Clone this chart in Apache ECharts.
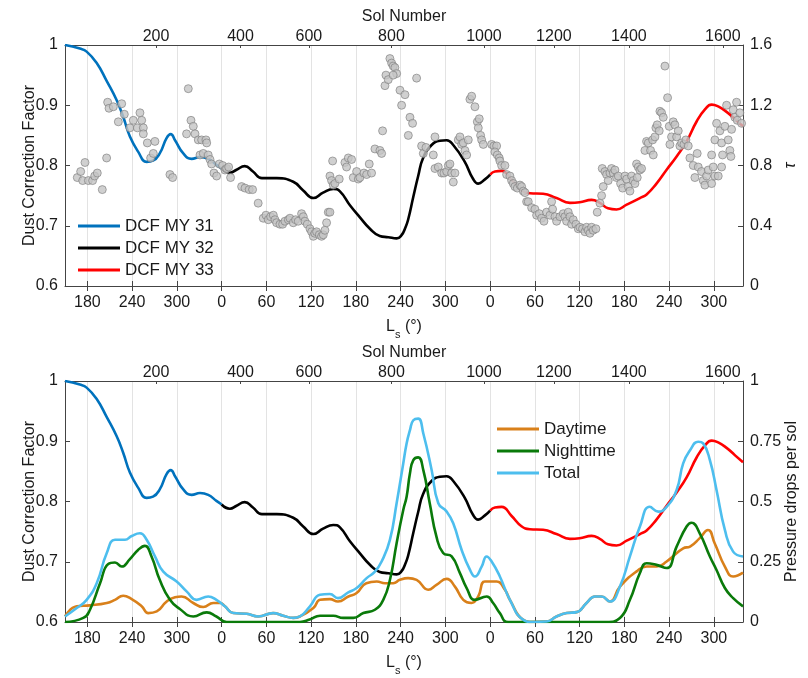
<!DOCTYPE html>
<html>
<head>
<meta charset="utf-8">
<script src="https://cdn.jsdelivr.net/npm/echarts@6/dist/echarts.min.js"></script>
<style>html,body{margin:0;padding:0;background:#fff}#c{width:808px;height:678px}</style>
</head>
<body>
<div id="c"></div>
<script>
// ---- Axis tick data ----
const lsTickPos = [180,240,300,360,420,480,540,600,660,720,780,840,900,960,1020];
const lsTickLabels = ['180','240','300','0','60','120','180','240','300','0','60','120','180','240','300'];
const solTickPos = [272,385.3,477,587.7,711.7,805.5,906,1032];
const solTickLabels = ['200','400','600','800','1000','1200','1400','1600'];

// ---- DCF curves [cumulative Ls, DCF] ----
const dcfMY31 = [[150,1.0],[170,0.994],[179,0.989],[192.5,0.970],[206,0.940],[219,0.909],[228,0.881],[237,0.848],[248,0.823],[259.5,0.806],[268,0.808],[277,0.820],[286,0.845],[291.7,0.852],[297.5,0.842],[308.6,0.820],[319.8,0.811],[331,0.814],[342,0.811],[353,0.801],[360,0.795]];
const dcfMY32 = [[360,0.795],[371,0.788],[380,0.793],[391,0.799],[402,0.790],[414,0.779],[434,0.779],[456,0.773],[469,0.759],[483,0.746],[496,0.755],[509.7,0.761],[518.6,0.757],[532,0.734],[545.4,0.714],[558.8,0.695],[572,0.683],[583.4,0.681],[594.6,0.679],[601,0.684],[606,0.696],[610,0.710],[617,0.748],[623.6,0.783],[630,0.812],[641.5,0.834],[652.7,0.841],[661.7,0.842],[670.5,0.834],[686,0.806],[697,0.778],[704,0.770],[713,0.777],[720,0.785]];
const dcfMY33 = [[720,0.785],[726.4,0.790],[735.4,0.791],[748.8,0.776],[762,0.759],[773.3,0.754],[791,0.753],[809,0.746],[827,0.738],[840,0.739],[856,0.743],[867,0.738],[878,0.729],[889.5,0.727],[903,0.735],[920.8,0.746],[929.8,0.752],[943,0.770],[956.6,0.793],[970,0.815],[983.4,0.840],[996.8,0.873],[1008,0.893],[1017,0.901],[1025.7,0.898],[1037,0.889],[1048,0.877],[1059,0.865]];

// ---- Optical depth tau points [cumulative Ls, tau] ----
const tauPoints = [[166.5,0.72],[171,0.76],[173.7,0.70],[181.3,0.70],[187,0.70],[189.8,0.73],[193.3,0.75],[176.8,0.82],[200,0.64],[205.8,0.85],[207.2,1.22],[209,1.18],[214.8,1.19],[221.5,1.09],[226,1.21],[229.5,1.14],[237,1.05],[241.6,1.10],[247,1.05],[250.5,1.15],[252.8,1.10],[255,1.05],[255,1.01],[260.4,0.95],[270.6,0.96],[264.8,0.85],[268.4,0.88],[290.7,0.74],[294.3,0.72],[315.3,1.31],[313,1.01],[318.9,1.10],[322,1.06],[324.3,1.01],[328.7,0.97],[333.2,0.97],[339,0.97],[340,0.95],[331,0.87],[335.4,0.88],[342,0.87],[344.4,0.84],[346.6,0.81],[349.7,0.75],[353.3,0.73],[356.9,0.81],[361.3,0.80],[364.5,0.77],[366.7,0.78],[369.4,0.79],[372,0.72],[386.8,0.66],[391.3,0.65],[397,0.64],[401.5,0.64],[409,0.55],[415.8,0.45],[419.4,0.47],[422.5,0.44],[425.7,0.46],[429.3,0.47],[431.5,0.44],[433.7,0.42],[438.2,0.41],[441.8,0.41],[444.9,0.43],[449.4,0.44],[451.6,0.45],[456,0.42],[459.2,0.44],[462.7,0.43],[467.2,0.48],[469.5,0.46],[471.7,0.43],[474.8,0.41],[478.4,0.38],[480.6,0.36],[482.9,0.33],[485,0.35],[487.3,0.36],[490.9,0.34],[494,0.33],[496.3,0.34],[498.5,0.37],[500.7,0.42],[503,0.49],[505.2,0.49],[505.2,0.73],[507.4,0.70],[509.7,0.67],[511.9,0.68],[517.7,0.71],[508.8,0.83],[525.3,0.82],[527.5,0.79],[529.8,0.85],[534.2,0.84],[536.5,0.72],[541,0.76],[543.2,0.71],[545.4,0.72],[550.8,0.75],[554.4,0.74],[557.9,0.81],[561,0.75],[565.5,0.91],[572.2,0.90],[574.5,0.88],[575.8,1.03],[579,1.33],[580.3,1.40],[583.4,1.37],[585.6,1.51],[587.9,1.48],[590,1.46],[592.3,1.45],[594.6,1.41],[590,1.40],
[599.1,1.30],[601.3,1.20],[605.8,1.27],[610.3,1.00],[612.5,1.12],[616,1.08],[621.4,1.38],[628.1,0.93],[630.4,0.88],[634,0.92],[643.8,0.87],[646,0.99],[646,0.78],[650.5,0.79],[655,0.75],[658,0.75],[661.7,0.76],[663.9,0.80],[666.1,0.81],[668.4,0.75],[670.6,0.69],[672.8,0.75],[677.3,0.97],[679.5,0.99],[681.8,0.94],[684,0.95],[686.2,0.90],[688.5,0.87],[690.7,0.97],[692.9,1.24],[695.2,1.26],[699.6,1.19],[702.8,1.09],[705.4,1.11],[704.1,1.05],[707.2,1.00],[708.6,0.97],[710.8,0.94],[722,0.94],[725.1,0.93],[728.7,0.93],[726.4,0.89],[729.6,0.87],[732.2,0.85],[733.1,0.83],[735.4,0.80],[739.8,0.80],[742.1,0.74],[746.5,0.73],[748.8,0.70],[751,0.68],[753.2,0.66],[756.4,0.65],[760,0.67],[762.2,0.66],[764.4,0.63],[766.7,0.62],[768.9,0.56],[771.1,0.56],[775.6,0.52],[780,0.51],[782.3,0.47],[785.9,0.48],[789,0.45],[792.1,0.43],[795.7,0.49],[800.2,0.47],[802.4,0.56],[803.7,0.51],[806.9,0.46],[809.1,0.43],[813.6,0.46],[818,0.48],[820.3,0.46],[822.5,0.43],[824.7,0.49],[827,0.46],[829.2,0.41],[831.4,0.44],[835,0.41],[838.1,0.38],[840.4,0.39],[843.9,0.38],[847.1,0.36],[849.3,0.39],[851.5,0.37],[853.8,0.35],[856,0.39],[858.2,0.37],[861.8,0.38],[863.6,0.49],[867.2,0.55],[869.4,0.60],[871.6,0.66],[870.3,0.78],[873.9,0.76],[876.1,0.74],[878.3,0.70],[880.6,0.75],[882.8,0.78],[885.1,0.75],[887.3,0.77],[889.5,0.72],[891.8,0.73],[894.9,0.68],[897.6,0.65],[900.7,0.73],[903,0.71],[905.2,0.66],[907.4,0.63],[909.6,0.73],[911.9,0.70],[914.1,0.68],[916.3,0.81],[918.6,0.79],[920.8,0.77],[923,0.78],[917.2,0.72],[927.5,0.90],[929.7,0.96],[932,0.95],[935.1,0.90],[937.8,0.97],[938.7,0.87],[940.9,0.99],[942.2,1.05],[944,1.07],[946.7,1.03],[947.6,1.16],[949.8,1.15],[952.1,1.12],[954.3,1.46],[957.9,1.25],[960.1,1.06],[961,0.94],[963.2,0.99],[965.5,1.09],[967.7,1.07],[970,0.99],[972.2,1.03],[974.4,0.93],[976.7,0.95],[979.8,0.94],[982.5,0.97],[985.6,0.93],[987.8,0.85],[992.3,0.80],[994.5,0.72],[997.6,0.88],[999,0.79],[1003.4,0.76],[1005.7,0.70],[1007.9,0.67],[1010.2,0.73],[1012.4,0.77],[1016.9,0.68],[1019.1,0.79],[1021.3,0.73],[1025.8,0.73],[1030.3,0.79],[1016.9,0.87],[1021.3,0.97],[1023.6,1.08],[1028,1.03],[1030.3,0.95],[1031.6,0.87],[1034.7,1.06],[1037,1.20],[1039.2,0.97],[1041.4,0.90],[1042.8,0.86],[1043.7,1.04],[1045.9,1.17],[1048.1,1.12],[1050.4,1.22],[1051.3,1.10],[1054.8,1.15],[1057.1,1.08]];

// ---- Pressure drops per sol [cumulative Ls, value] ----
const totalDrops = [[150,0.023],[165.7,0.058],[179,0.092],[192.5,0.161],[206,0.286],[217,0.341],[230.4,0.341],[239.4,0.357],[250.5,0.368],[259.5,0.341],[270.6,0.272],[281.8,0.209],[299.7,0.168],[313,0.127],[326.5,0.092],[342,0.106],[353,0.092],[364.5,0.065],[375.6,0.037],[393.6,0.034],[409,0.023],[429,0.037],[442.6,0.026],[456,0.017],[465,0.023],[478.4,0.065],[491.8,0.113],[505,0.116],[516,0.099],[529.8,0.123],[541,0.141],[554.4,0.182],[565.5,0.209],[574.5,0.251],[585.6,0.341],[594.6,0.493],[603.5,0.658],[608,0.741],[612.5,0.796],[617,0.837],[623.6,0.844],[630.4,0.782],[641.6,0.630],[650.5,0.493],[661.7,0.458],[670.5,0.410],[681.8,0.299],[693,0.216],[699.6,0.189],[708.6,0.230],[715.3,0.272],[722,0.251],[733,0.189],[746.5,0.092],[764,0.010],[777.8,0],[795.7,0.002],[809,0.023],[822.5,0.037],[836,0.041],[849.3,0.079],[860.5,0.106],[869.4,0.106],[880.6,0.085],[894,0.147],[907.4,0.272],[920.8,0.396],[934,0.478],[945.3,0.458],[956.6,0.478],[970,0.548],[978.8,0.658],[988,0.713],[999,0.748],[1005.6,0.741],[1014.6,0.672],[1023.5,0.548],[1034.7,0.382],[1045.8,0.292],[1059,0.272]];
const nightDrops = [[150,0],[174.5,0.017],[183.5,0.051],[197,0.161],[208,0.241],[217,0.247],[226,0.230],[237,0.261],[248,0.299],[257,0.316],[266,0.272],[277,0.175],[290.7,0.092],[304,0.054],[322,0.023],[340,0.040],[353,0.023],[366.7,0],[465,0],[478,0.010],[492,0.026],[509.7,0.026],[523,0.017],[536.5,0.017],[550,0.037],[565.5,0.051],[576.7,0.092],[585.7,0.175],[594.6,0.327],[603.5,0.465],[608,0.520],[612.5,0.617],[617,0.672],[623.6,0.683],[630.4,0.630],[639,0.493],[648,0.354],[657,0.286],[668.4,0.272],[679.5,0.203],[688.5,0.141],[699.6,0.092],[715.3,0.106],[724,0.079],[733,0.037],[744,0],[876,0],[894,0.017],[907.4,0.092],[920.8,0.203],[929.8,0.244],[943,0.237],[956.6,0.224],[970,0.313],[983.4,0.396],[990,0.412],[1001,0.368],[1014.6,0.272],[1023.5,0.216],[1034.7,0.141],[1045.8,0.099],[1059,0.065]];
const dayDrops = [[150,0.023],[165.7,0.065],[183.5,0.069],[206,0.079],[217,0.092],[228,0.109],[239.4,0.095],[252.8,0.065],[261.7,0.037],[273,0.044],[286.3,0.085],[297.5,0.103],[306.4,0.106],[322,0.079],[335.4,0.062],[348.8,0.079],[358,0.079],[364.5,0.065],[375.6,0.037],[393.6,0.034],[409,0.023],[429,0.037],[442.6,0.026],[456,0.017],[465,0.023],[483,0.058],[492,0.092],[505,0.095],[516,0.085],[530,0.106],[541,0.120],[554,0.161],[568,0.168],[579,0.161],[590,0.161],[599,0.175],[610,0.182],[621.4,0.175],[637,0.134],[648,0.154],[661.7,0.179],[672.8,0.147],[684,0.092],[695,0.079],[704,0.106],[713,0.168],[728.7,0.168],[739.8,0.134],[746.5,0.092],[764,0.010],[777.8,0],[795.7,0.002],[809,0.023],[822.5,0.037],[836,0.041],[849.3,0.079],[860.5,0.106],[869.4,0.106],[880.6,0.085],[894,0.147],[916,0.209],[930,0.230],[943,0.230],[956.6,0.251],[978.8,0.306],[988,0.313],[1001,0.348],[1012,0.382],[1021,0.327],[1034.7,0.230],[1045.8,0.189],[1059,0.205]];

// ---- Rendering ----
const FONT = "'Liberation Sans', Arial, Helvetica, sans-serif";
const TXT = '#1a1a1a';
const AX = '#444';
function lookup(pos, labels) {
  return function (v) {
    for (let i = 0; i < pos.length; i++) if (Math.abs(pos[i] - v) < 1e-6) return labels[i];
    return '';
  };
}
const xMin = 150, xMax = 1059;
function xAxesFor(g) {
  return [
    { gridIndex: g, type: 'value', position: 'bottom', min: xMin, max: xMax,
      axisLine: { show: true, onZero: false, lineStyle: { color: AX } },
      axisTick: { show: true, inside: true, length: 5, customValues: lsTickPos, lineStyle: { color: AX } },
      axisLabel: { customValues: lsTickPos, formatter: lookup(lsTickPos, lsTickLabels), margin: 9, color: TXT, fontSize: 16, fontFamily: FONT },
      splitLine: { show: true, lineStyle: { color: '#e3e3e3', width: 1 } },
      name: '{l|L}{s|s}{l| (°)}', nameLocation: 'middle', nameGap: 28, nameMoveOverlap: false,
      nameTextStyle: { fontFamily: FONT, color: TXT, rich: {
        l: { fontSize: 16, fontFamily: FONT, color: TXT, lineHeight: 26, verticalAlign: 'middle' },
        s: { fontSize: 11, fontFamily: FONT, color: TXT, lineHeight: 26, verticalAlign: 'bottom' } } } },
    { gridIndex: g, type: 'value', position: 'top', min: xMin, max: xMax,
      axisLine: { show: true, onZero: false, lineStyle: { color: AX } },
      axisTick: { show: true, inside: true, length: 3, customValues: solTickPos, lineStyle: { color: AX } },
      axisLabel: { customValues: solTickPos, formatter: lookup(solTickPos, solTickLabels), margin: 0, color: TXT, fontSize: 16, fontFamily: FONT },
      splitLine: { show: false },
      name: 'Sol Number', nameLocation: 'middle', nameGap: 20, nameMoveOverlap: false,
      nameTextStyle: { fontSize: 16, fontFamily: FONT, color: TXT } },
    { gridIndex: g, type: 'value', position: 'top', min: xMin, max: xMax,
      axisLine: { show: false },
      axisTick: { show: true, inside: true, length: 5, customValues: lsTickPos, lineStyle: { color: AX } },
      axisLabel: { show: false },
      splitLine: { show: false } }
  ];
}
function yLeft(g) {
  return { gridIndex: g, type: 'value', position: 'left', min: 0.6, max: 1, interval: 0.1,
    axisLine: { show: true, onZero: false, lineStyle: { color: AX } },
    axisTick: { show: true, inside: true, length: 5, lineStyle: { color: AX } },
    axisLabel: { margin: 7, color: TXT, fontSize: 16, fontFamily: FONT },
    splitLine: { show: false },
    name: 'Dust Correction Factor', nameLocation: 'middle', nameGap: 27, nameRotate: 90, nameMoveOverlap: false,
    nameTextStyle: { fontSize: 16, fontFamily: FONT, color: TXT } };
}
const option = {
  animation: false,
  backgroundColor: '#fff',
  textStyle: { fontFamily: FONT },
  grid: [
    { left: 65, right: 65, top: 45, height: 241 },
    { left: 65, right: 65, top: 381, height: 241 }
  ],
  xAxis: xAxesFor(0).concat(xAxesFor(1)),
  yAxis: [
    yLeft(0),
    { gridIndex: 0, type: 'value', position: 'right', min: 0, max: 1.6, interval: 0.4,
      axisLine: { show: true, onZero: false, lineStyle: { color: AX } },
      axisTick: { show: true, inside: true, length: 5, lineStyle: { color: AX } },
      axisLabel: { margin: 7, color: TXT, fontSize: 16, fontFamily: FONT },
      splitLine: { show: false },
      name: 'τ', nameLocation: 'middle', nameGap: 40, nameRotate: 90, nameMoveOverlap: false,
      nameTextStyle: { fontSize: 16, fontStyle: 'italic', fontFamily: FONT, color: TXT } },
    yLeft(1),
    { gridIndex: 1, type: 'value', position: 'right', min: 0, max: 1, interval: 0.25,
      axisLine: { show: true, onZero: false, lineStyle: { color: AX } },
      axisTick: { show: true, inside: true, length: 5, lineStyle: { color: AX } },
      axisLabel: { margin: 7, color: TXT, fontSize: 16, fontFamily: FONT },
      splitLine: { show: false },
      name: 'Pressure drops per sol', nameLocation: 'middle', nameGap: 41, nameRotate: 90, nameMoveOverlap: false,
      nameTextStyle: { fontSize: 16, fontFamily: FONT, color: TXT } }
  ],
  legend: [
    { data: ['DCF MY 31', 'DCF MY 32', 'DCF MY 33'], orient: 'vertical', left: 73, top: 210,
      icon: 'rect', itemWidth: 42, itemHeight: 3, itemGap: 0, selectedMode: false,
      textStyle: { fontSize: 17, lineHeight: 22, color: TXT, fontFamily: FONT } },
    { data: ['Daytime', 'Nighttime', 'Total'], orient: 'vertical', left: 492, top: 413,
      icon: 'rect', itemWidth: 42, itemHeight: 3, itemGap: 0, selectedMode: false,
      textStyle: { fontSize: 17, lineHeight: 22, color: TXT, fontFamily: FONT } }
  ],
  series: []
};
function line(name, data, color, xi, yi, z) {
  return { name: name, type: 'line', data: data, xAxisIndex: xi, yAxisIndex: yi, z: z || 2,
    showSymbol: false, symbol: 'none', smooth: 0.5,
    itemStyle: { color: color }, lineStyle: { color: color, width: 2.6 } };
}
option.series.push(line('DCF MY 31', dcfMY31, '#0072BD', 0, 0));
option.series.push(line('DCF MY 32', dcfMY32, '#000000', 0, 0));
option.series.push(line('DCF MY 33', dcfMY33, '#FF0000', 0, 0));
option.series.push({ name: 'tau', type: 'scatter', data: tauPoints, xAxisIndex: 0, yAxisIndex: 1, z: 3,
  symbol: 'circle', symbolSize: 8,
  itemStyle: { color: '#c4c4c4', borderColor: '#7a7a7a', borderWidth: 0.8 } });
option.series.push(line('DCF MY 31', dcfMY31, '#0072BD', 3, 2));
option.series.push(line('DCF MY 32', dcfMY32, '#000000', 3, 2));
option.series.push(line('DCF MY 33', dcfMY33, '#FF0000', 3, 2));
option.series.push(line('Daytime', dayDrops, '#D9801A', 3, 3, 3));
option.series.push(line('Nighttime', nightDrops, '#0A7A0A', 3, 3, 3));
option.series.push(line('Total', totalDrops, '#4DBEEE', 3, 3, 3));

const chart = echarts.init(document.getElementById('c'), null, { renderer: 'canvas' });
chart.setOption(option);
</script>
</body>
</html>
